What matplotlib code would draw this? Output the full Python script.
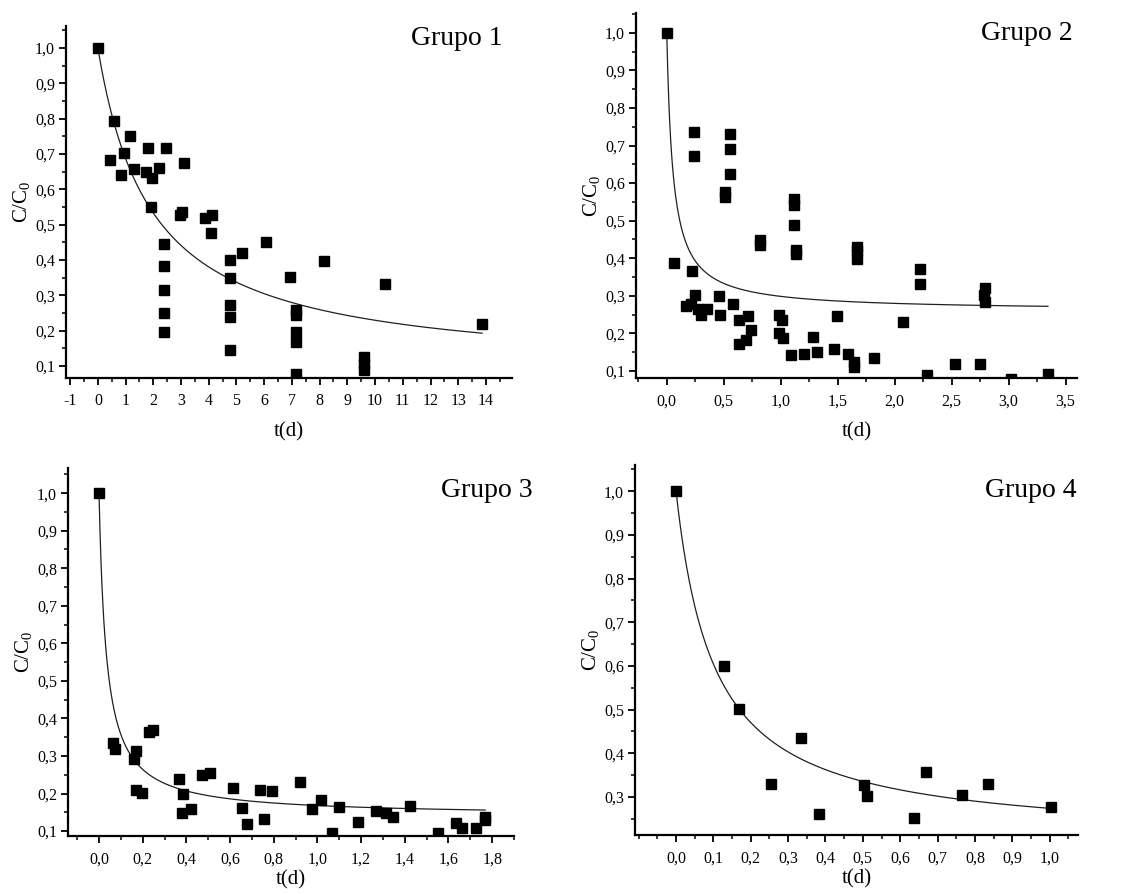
import numpy as np
import matplotlib
matplotlib.use("Agg")
import matplotlib.pyplot as plt
from matplotlib.ticker import MultipleLocator, FuncFormatter

plt.rcParams['font.family'] = ['Liberation Serif', 'DejaVu Serif']
plt.rcParams['mathtext.fontset'] = 'custom'
plt.rcParams['mathtext.rm'] = 'Liberation Serif'
plt.rcParams['mathtext.it'] = 'Liberation Serif:italic'

# Grupo 1 -- tiempo (d) y concentracion relativa
t1 = [0.0, 0.58, 0.42, 0.84, 0.95, 1.15, 1.30, 1.72, 1.80, 1.94, 1.90, 2.20, 2.44,
      2.38, 2.38, 2.38, 2.38, 2.38, 2.96, 3.04, 3.10, 3.85, 4.13, 4.07,
      4.76, 4.76, 4.76, 4.76, 4.76, 5.19, 6.06, 6.92,
      7.16, 7.16, 7.16, 7.16, 7.16, 8.14, 9.60, 9.60, 9.60, 10.37, 13.86]
c1 = [1.0, 0.794, 0.684, 0.641, 0.703, 0.750, 0.658, 0.649, 0.716, 0.631, 0.550, 0.660, 0.716,
      0.445, 0.383, 0.315, 0.249, 0.195, 0.528, 0.535, 0.675, 0.519, 0.527, 0.477,
      0.400, 0.348, 0.273, 0.238, 0.145, 0.419, 0.451, 0.353,
      0.259, 0.245, 0.195, 0.167, 0.078, 0.396, 0.125, 0.105, 0.088, 0.331, 0.218]

# Grupo 2
t2 = [0.0, 0.064, 0.24, 0.24, 0.225, 0.249, 0.167, 0.217, 0.27, 0.30, 0.357,
      0.46, 0.47, 0.577, 0.556, 0.556, 0.556, 0.513, 0.513, 0.636, 0.715, 0.738,
      0.636, 0.697, 0.817, 0.817, 0.987, 1.01, 0.987, 1.016, 1.09, 1.113, 1.113,
      1.113, 1.136, 1.136, 1.207, 1.28, 1.315, 1.47, 1.49, 1.59, 1.64, 1.64,
      1.67, 1.67, 1.67, 1.816, 2.07, 2.226, 2.226, 2.285, 2.53, 2.745,
      2.79, 2.78, 2.79, 3.02, 3.345]
c2 = [1.0, 0.386, 0.737, 0.671, 0.367, 0.301, 0.272, 0.278, 0.266, 0.250, 0.266,
      0.299, 0.250, 0.278, 0.730, 0.690, 0.624, 0.576, 0.564, 0.235, 0.246, 0.210,
      0.171, 0.181, 0.448, 0.435, 0.248, 0.235, 0.202, 0.188, 0.141, 0.557, 0.542,
      0.488, 0.422, 0.410, 0.144, 0.190, 0.149, 0.157, 0.246, 0.144, 0.124, 0.110,
      0.431, 0.420, 0.397, 0.133, 0.229, 0.370, 0.330, 0.090, 0.117, 0.119,
      0.322, 0.302, 0.284, 0.079, 0.091]

# Grupo 3
t3 = [0.0, 0.063, 0.072, 0.159, 0.168, 0.171, 0.195, 0.228, 0.247, 0.365, 0.38,
      0.384, 0.421, 0.47, 0.509, 0.614, 0.654, 0.677, 0.735, 0.754, 0.792, 0.918,
      0.974, 1.017, 1.068, 1.098, 1.187, 1.267, 1.316, 1.345, 1.422, 1.553,
      1.634, 1.662, 1.726, 1.765, 1.768]
c3 = [1.0, 0.335, 0.318, 0.291, 0.314, 0.209, 0.201, 0.365, 0.369, 0.240, 0.149,
      0.198, 0.158, 0.250, 0.256, 0.214, 0.162, 0.120, 0.209, 0.131, 0.207, 0.232,
      0.158, 0.184, 0.094, 0.165, 0.124, 0.153, 0.147, 0.138, 0.168, 0.095,
      0.122, 0.109, 0.109, 0.129, 0.138]

# Grupo 4
t4 = [0.0, 0.128, 0.168, 0.254, 0.334, 0.383, 0.502, 0.510, 0.637, 0.668, 0.765, 0.835, 1.003]
c4 = [1.0, 0.600, 0.501, 0.329, 0.435, 0.262, 0.327, 0.303, 0.251, 0.358, 0.304, 0.329, 0.276]

# parametros del ajuste C/C0 = Cr + (1 - Cr) / (1 + k t)
fit_cr = [0.08, 0.26, 0.14, 0.20]
fit_k = [0.516, 18.3, 29.6, 9.8]

groups = ["Grupo 1", "Grupo 2", "Grupo 3", "Grupo 4"]

# ejes en pixeles: izquierda, derecha, arriba, abajo
W, H = 1125, 894
boxes = [(66, 512, 26, 378), (636, 1077, 13, 378), (68, 514, 468, 836), (635, 1078, 465, 835)]
xlims = [(-1.15, 14.94), (-0.27, 3.6), (-0.142, 1.9), (-0.11, 1.076)]
ylims = [(0.066, 1.062), (0.081, 1.053), (0.087, 1.067), (0.213, 1.06)]
xmajor = [1.0, 0.5, 0.2, 0.1]
xticks_lo = [-1.0, 0.0, 0.0, 0.0]
xlabel_pad = [9, 9, 2, 2]
title_pos = [(0.877, 0.965), (0.887, 0.945), (0.94, 0.94), (0.894, 0.932)]


def comma(v, pos, decimals=1):
    return f"{v:.{decimals}f}".replace('.', ',')


fig = plt.figure(figsize=(W / 100, H / 100), dpi=100)
data = [(t1, c1), (t2, c2), (t3, c3), (t4, c4)]

for i, (t, c) in enumerate(data):
    l, r, top, bot = boxes[i]
    ax = fig.add_axes([l / W, 1 - bot / H, (r - l) / W, (bot - top) / H])

    tt = np.linspace(0, max(t), 400)
    fit = fit_cr[i] + (1 - fit_cr[i]) / (1 + fit_k[i] * tt)
    ax.plot(tt, fit, color='#202020', lw=0.9, zorder=2)
    ax.plot(t, c, 's', color='black', ms=7, zorder=3)

    ax.set_xlim(*xlims[i])
    ax.set_ylim(*ylims[i])
    ax.spines['top'].set_visible(False)
    ax.spines['right'].set_visible(False)
    for s in ('left', 'bottom'):
        ax.spines[s].set_linewidth(1.6)

    step = xmajor[i]
    xt = np.arange(xticks_lo[i], xlims[i][1], step)
    ax.set_xticks(xt)
    ax.xaxis.set_minor_locator(MultipleLocator(step / 2))
    ax.yaxis.set_major_locator(MultipleLocator(0.1))
    ax.yaxis.set_minor_locator(MultipleLocator(0.05))
    if i == 0:
        ax.xaxis.set_major_formatter(FuncFormatter(lambda v, p: f"{v:.0f}"))
    else:
        ax.xaxis.set_major_formatter(FuncFormatter(comma))
    ax.yaxis.set_major_formatter(FuncFormatter(comma))

    ax.tick_params(which='major', direction='out', length=5, width=1.3, labelsize=11.5)
    ax.tick_params(axis='x', which='major', pad=6)
    ax.tick_params(axis='y', which='major', pad=3)
    ax.tick_params(which='minor', direction='out', length=3, width=1.1)

    ax.set_xlabel("t(d)", fontsize=15, labelpad=xlabel_pad[i])
    ax.set_ylabel(r"C/C$_\mathrm{0}$", fontsize=15, labelpad=2)

    ax.text(title_pos[i][0], title_pos[i][1], groups[i], transform=ax.transAxes,
            ha='center', va='center', fontsize=20)

fig.savefig("out.png", dpi=100)
